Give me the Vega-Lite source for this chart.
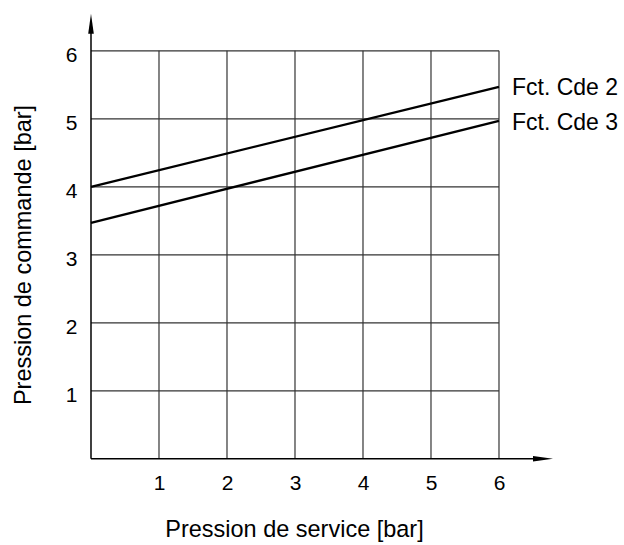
{
  "$schema": "https://vega.github.io/schema/vega-lite/v6.json",
  "autosize": {"type": "none"},
  "padding": {"left": 91, "top": 10, "right": 70, "bottom": 86},
  "width": 462.4,
  "height": 448.8,
  "config": {
    "view": {"stroke": null},
    "font": "Liberation Sans",
    "axis": {"labelFontSize": 21, "labelFont": "Liberation Sans", "labelColor": "#000"}
  },
  "datasets": {
    "vgrid": [
      {"x": 1, "y1": 0, "y2": 6},
      {"x": 2, "y1": 0, "y2": 6},
      {"x": 3, "y1": 0, "y2": 6},
      {"x": 4, "y1": 0, "y2": 6},
      {"x": 5, "y1": 0, "y2": 6},
      {"x": 6, "y1": 0, "y2": 6}
    ],
    "hgrid": [
      {"y": 1, "x1": 0, "x2": 6},
      {"y": 2, "x1": 0, "x2": 6},
      {"y": 3, "x1": 0, "x2": 6},
      {"y": 4, "x1": 0, "x2": 6},
      {"y": 5, "x1": 0, "x2": 6},
      {"y": 6, "x1": 0, "x2": 6}
    ],
    "axes": [
      {"x1": 0, "x2": 6.5, "y1": 0, "y2": 0},
      {"x1": 0, "x2": 0, "y1": 0, "y2": 6.3}
    ],
    "lines": [
      {"serie": "Fct. Cde 2", "p": 0, "c": 4.0},
      {"serie": "Fct. Cde 2", "p": 6, "c": 5.47},
      {"serie": "Fct. Cde 3", "p": 0, "c": 3.47},
      {"serie": "Fct. Cde 3", "p": 6, "c": 4.97}
    ],
    "labels": [
      {"serie": "Fct. Cde 2", "p": 6, "c": 5.46},
      {"serie": "Fct. Cde 3", "p": 6, "c": 4.94}
    ]
  },
  "layer": [
    {
      "data": {"name": "vgrid"},
      "mark": {"type": "rule", "color": "#333", "strokeWidth": 1.2},
      "encoding": {
        "x": {"field": "x", "type": "quantitative", "scale": {"domain": [0, 6.8], "nice": false, "zero": false},
          "axis": {"values": [1, 2, 3, 4, 5, 6], "format": "d", "domain": false, "ticks": false, "grid": false,
            "labelFontSize": 21, "labelColor": "#000", "labelPadding": 25, "labelBaseline": "middle", "labelFont": "Liberation Sans",
            "title": "Pression de service [bar]", "titleFontSize": 23.5, "titleFontWeight": "normal", "titleColor": "#000",
            "titleFont": "Liberation Sans", "titleX": 203, "titleY": 71, "titleAlign": "center", "titleBaseline": "middle", "titleAnchor": null}},
        "y": {"field": "y1", "type": "quantitative", "scale": {"domain": [0, 6.6], "nice": false, "zero": false},
          "axis": {"values": [1, 2, 3, 4, 5, 6], "format": "d", "domain": false, "ticks": false, "grid": false,
            "labelFontSize": 21, "labelColor": "#000", "labelPadding": 14, "labelOffset": 4.5, "labelFont": "Liberation Sans",
            "title": "Pression de commande [bar]", "titleFontSize": 23.5, "titleFontWeight": "normal", "titleColor": "#000",
            "titleFont": "Liberation Sans", "titleX": -67, "titleY": 244.5, "titleAlign": "center", "titleBaseline": "middle", "titleAngle": -90, "titleAnchor": null}},
        "y2": {"field": "y2"}
      }
    },
    {
      "data": {"name": "hgrid"},
      "mark": {"type": "rule", "color": "#333", "strokeWidth": 1.2},
      "encoding": {
        "y": {"field": "y", "type": "quantitative"},
        "x": {"field": "x1", "type": "quantitative"},
        "x2": {"field": "x2"}
      }
    },
    {
      "data": {"name": "axes"},
      "mark": {"type": "rule", "color": "#000", "strokeWidth": 1.5},
      "encoding": {
        "x": {"field": "x1", "type": "quantitative"},
        "x2": {"field": "x2"},
        "y": {"field": "y1", "type": "quantitative"},
        "y2": {"field": "y2"}
      }
    },
    {
      "data": {"values": [{"x": 6.647, "y": 0}]},
      "mark": {"type": "point", "shape": "M-1,-0.28L1,0L-1,0.28Z", "size": 400, "filled": true, "color": "#000", "opacity": 1},
      "encoding": {
        "x": {"field": "x", "type": "quantitative"},
        "y": {"field": "y", "type": "quantitative"}
      }
    },
    {
      "data": {"values": [{"x": 0, "y": 6.397}]},
      "mark": {"type": "point", "shape": "M-0.28,1L0,-1L0.28,1Z", "size": 400, "filled": true, "color": "#000", "opacity": 1},
      "encoding": {
        "x": {"field": "x", "type": "quantitative"},
        "y": {"field": "y", "type": "quantitative"}
      }
    },
    {
      "data": {"name": "lines"},
      "mark": {"type": "line", "color": "#000", "strokeWidth": 2.4},
      "encoding": {
        "x": {"field": "p", "type": "quantitative"},
        "y": {"field": "c", "type": "quantitative"},
        "detail": {"field": "serie"}
      }
    },
    {
      "data": {"name": "labels"},
      "mark": {"type": "text", "align": "left", "baseline": "middle", "dx": 13, "fontSize": 23, "color": "#000", "font": "Liberation Sans"},
      "encoding": {
        "x": {"field": "p", "type": "quantitative"},
        "y": {"field": "c", "type": "quantitative"},
        "text": {"field": "serie"}
      }
    }
  ]
}
